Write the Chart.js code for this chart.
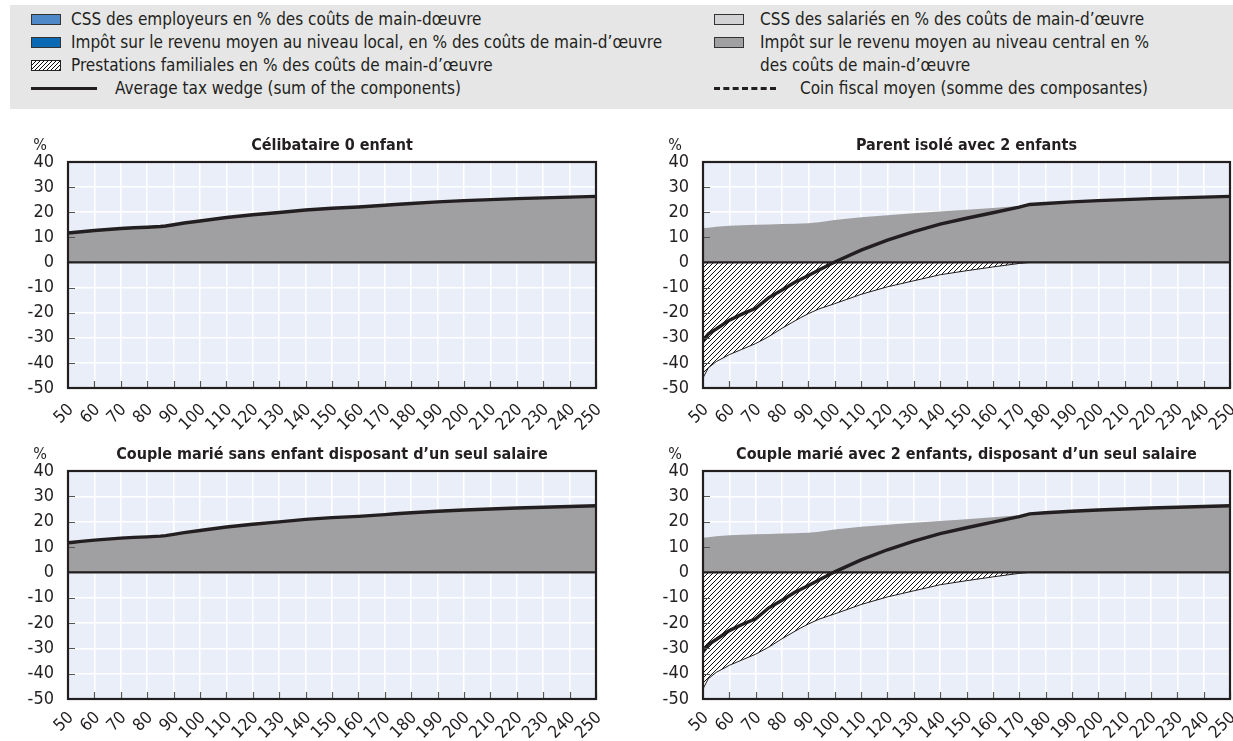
<!DOCTYPE html>
<html>
<head>
<meta charset="utf-8">
<script src="https://cdn.jsdelivr.net/npm/chart.js@4.4.1/dist/chart.umd.min.js"></script>
<style>
  html, body { margin: 0; padding: 0; background: #ffffff; width: 1233px; height: 741px; overflow: hidden; }
  body { position: relative; font-family: "Liberation Sans Narrow", "Arial Narrow", "DejaVu Sans Condensed", sans-serif; color: #231f20; }
  #legend { position: absolute; left: 10px; top: 5px; width: 1223px; height: 104px; background: #e6e6e6; }
  .li { position: absolute; font-size: 17px; line-height: 23px; white-space: nowrap; }
  .sw { position: absolute; width: 30px; height: 11px; box-sizing: border-box; border: 1px solid #333; }
  .wrap { position: absolute; }
</style>
</head>
<body>
<div id="legend"></div>
<div class="wrap" style="left:0px;top:120px;"><canvas id="c1" width="616" height="320"></canvas></div>
<div class="wrap" style="left:616px;top:120px;"><canvas id="c2" width="617" height="320"></canvas></div>
<div class="wrap" style="left:0px;top:430px;"><canvas id="c3" width="616" height="311"></canvas></div>
<div class="wrap" style="left:616px;top:430px;"><canvas id="c4" width="617" height="311"></canvas></div>
<script>
// ---- Data ----
const earnings = [50, 52, 55, 60, 65, 70, 75, 80, 85, 87, 90, 94, 100, 110, 120, 130, 140, 150, 160, 170, 174, 180, 190, 200, 210, 220, 230, 240, 250];

// Single, no child & one-earner married couple without children
const singleIncomeTaxCentral = [11.7, 11.9, 12.2, 12.7, 13.1, 13.5, 13.8, 14.0, 14.3, 14.5, 15.0, 15.7, 16.5, 17.9, 19.0, 19.9, 20.9, 21.6, 22.1, 22.8, 23.1, 23.5, 24.1, 24.6, 25.0, 25.4, 25.7, 26.0, 26.3];
const singleFamilyBenefits   = [0, 0, 0, 0, 0, 0, 0, 0, 0, 0, 0, 0, 0, 0, 0, 0, 0, 0, 0, 0, 0, 0, 0, 0, 0, 0, 0, 0, 0];
const singleTaxWedge         = [11.7, 11.9, 12.2, 12.7, 13.1, 13.5, 13.8, 14.0, 14.3, 14.5, 15.0, 15.7, 16.5, 17.9, 19.0, 19.9, 20.9, 21.6, 22.1, 22.8, 23.1, 23.5, 24.1, 24.6, 25.0, 25.4, 25.7, 26.0, 26.3];

// Single parent with 2 children & one-earner married couple with 2 children
const parentIncomeTaxCentral = [13.7, 13.8, 14.2, 14.6, 14.8, 15.0, 15.1, 15.3, 15.4, 15.5, 15.6, 16.0, 16.9, 18.0, 18.8, 19.6, 20.3, 21.0, 21.7, 22.5, 23.1, 23.5, 24.1, 24.6, 25.0, 25.4, 25.7, 26.0, 26.3];
const parentFamilyBenefits   = [-46, -42, -39.5, -36.7, -34.5, -32.3, -29.5, -26.2, -23.2, -22.0, -20.4, -18.5, -16.4, -12.7, -9.7, -7.3, -4.9, -3.3, -1.8, -0.4, 0, 0, 0, 0, 0, 0, 0, 0, 0];
const parentTaxWedge         = [-31.5, -28.5, -26.5, -23.0, -20.5, -18.3, -14.0, -11.0, -7.8, -6.8, -5.2, -3.0, 0.2, 4.9, 8.9, 12.3, 15.3, 17.6, 19.8, 22.0, 23.1, 23.5, 24.1, 24.6, 25.0, 25.4, 25.7, 26.0, 26.3];

const panelTitles = [
  "Célibataire 0 enfant",
  "Parent isolé avec 2 enfants",
  "Couple marié sans enfant disposant d’un seul salaire",
  "Couple marié avec 2 enfants, disposant d’un seul salaire"
];
const legendLabels = [
  "CSS des employeurs en % des coûts de main-dœuvre",
  "Impôt sur le revenu moyen au niveau local, en % des coûts de main-d’œuvre",
  "Prestations familiales en % des coûts de main-d’œuvre",
  "Average tax wedge (sum of the components)",
  "CSS des salariés en % des coûts de main-d’œuvre",
  "Impôt sur le revenu moyen au niveau central en %<br>des coûts de main-d’œuvre",
  "Coin fiscal moyen (somme des composantes)"
];
const yMin = -50, yMax = 40, yStep = 10;
const xMin = 50, xMax = 250, xStep = 10;

// ---- Styles ----
const COL_CENTRAL = '#a0a0a3';
const COL_BG = '#e9eef8';
const FONT = '"Liberation Sans Narrow", "Arial Narrow", "DejaVu Sans Condensed", sans-serif';

function makeHatch(size) {
  const c = document.createElement('canvas');
  c.width = size; c.height = size;
  const g = c.getContext('2d');
  g.fillStyle = '#ffffff'; g.fillRect(0, 0, size, size);
  g.strokeStyle = '#111'; g.lineWidth = 1;
  g.beginPath();
  g.moveTo(0, size); g.lineTo(size, 0);
  g.moveTo(-1, 1); g.lineTo(1, -1);
  g.moveTo(size - 1, size + 1); g.lineTo(size + 1, size - 1);
  g.stroke();
  return c;
}
const hatchCanvas = makeHatch(5);

// ---- Legend (HTML text) ----
(function buildLegend() {
  const L = document.getElementById('legend');
  const OX = 10, OY = 5; // legend box origin
  function add(html, x, cy) {
    const d = document.createElement('div');
    d.className = 'li'; d.style.left = (x - OX) + 'px'; d.style.top = (cy - 11 - OY) + 'px';
    d.innerHTML = html; L.appendChild(d); return d;
  }
  function sw(x, cy, bg, extra) {
    const s = document.createElement('div');
    s.className = 'sw'; s.style.left = (x - OX) + 'px'; s.style.top = (cy - 5 - OY) + 'px'; s.style.background = bg;
    if (extra) s.style.cssText += extra;
    L.appendChild(s);
  }
  function line(x, cy, w, style) {
    const d = document.createElement('div');
    d.style.cssText = 'position:absolute;left:' + (x - OX) + 'px;top:' + (cy - 1 - OY) + 'px;width:' + w + 'px;height:0;border-top:3px ' + style + ' #231f20;';
    L.appendChild(d);
  }
  const rows = [19, 42, 65, 88];
  const lx = 31, tx = 71;
  sw(lx, rows[0], '#4e88c9');
  add(legendLabels[0], tx, rows[0]);
  sw(lx, rows[1], '#0b69b3');
  add(legendLabels[1], tx, rows[1]);
  sw(lx, rows[2], 'url(' + makeHatch(4).toDataURL() + ')', 'border-color:#222;');
  add(legendLabels[2], tx, rows[2]);
  line(lx, rows[3], 66, 'solid');
  add(legendLabels[3], 115, rows[3]);

  const rx = 714, rtx = 760;
  sw(rx, rows[0], '#d2d2d4');
  add(legendLabels[4], rtx, rows[0]);
  sw(rx, rows[1], COL_CENTRAL);
  add(legendLabels[5], rtx, rows[1]);
  line(rx, rows[3], 62, 'dashed');
  add(legendLabels[6], 800, rows[3]);
})();

// ---- Chart plugin: background, border, inner ticks, zero line, title, % label ----
const panelDeco = {
  id: 'panelDeco',
  beforeDraw(chart) {
    const { ctx, chartArea: a } = chart;
    ctx.save();
    ctx.fillStyle = COL_BG;
    ctx.fillRect(a.left, a.top, a.right - a.left, a.bottom - a.top);
    ctx.restore();
  },
  afterDatasetsDraw(chart, args, opts) {
    const { ctx, chartArea: a, scales } = chart;
    const xs = scales.x, ys = scales.y;
    ctx.save();
    ctx.strokeStyle = '#555'; ctx.lineWidth = 1.2;
    ctx.beginPath();
    for (let v = yMin + yStep; v < yMax; v += yStep) {
      const py = Math.round(ys.getPixelForValue(v)) + 0.5;
      ctx.moveTo(a.left, py); ctx.lineTo(a.left + 7, py);
    }
    for (let v = xMin + xStep; v <= xMax; v += xStep) {
      const px = Math.round(xs.getPixelForValue(v)) + 0.5;
      ctx.moveTo(px, a.bottom); ctx.lineTo(px, a.bottom - 7);
    }
    ctx.stroke();
    const zy = ys.getPixelForValue(0);
    ctx.strokeStyle = '#231f20'; ctx.lineWidth = 2.2;
    ctx.beginPath(); ctx.moveTo(a.left, zy); ctx.lineTo(a.right, zy); ctx.stroke();
    ctx.lineWidth = 2.2;
    ctx.strokeRect(a.left, a.top, a.right - a.left, a.bottom - a.top);
    ctx.restore();
  },
  afterDraw(chart, args, opts) {
    const { ctx, chartArea: a } = chart;
    ctx.save();
    ctx.fillStyle = '#231f20';
    ctx.font = 'bold 16px ' + FONT;
    ctx.textAlign = 'center'; ctx.textBaseline = 'middle';
    ctx.fillText(opts.title, (a.left + a.right) / 2, a.top - 16);
    ctx.font = '16px ' + FONT;
    ctx.fillText('%', a.left - 28, a.top - 16);
    ctx.restore();
  }
};

function makeChart(id, title, tax, benefits, wedge, axisW, padTop, xAxisH, padRight, xPad) {
  const pts = arr => earnings.map((x, i) => ({ x: x, y: arr[i] }));
  const ctx = document.getElementById(id).getContext('2d');
  const hatch = ctx.createPattern(hatchCanvas, 'repeat');
  return new Chart(ctx, {
    type: 'line',
    data: {
      datasets: [
        { label: 'Average tax wedge (sum of the components)', data: pts(wedge), borderColor: '#231f20', borderWidth: 3.4, pointRadius: 0, fill: false, order: 0 },
        { label: 'Prestations familiales en % des coûts de main-d’œuvre', data: pts(benefits), borderColor: '#231f20', borderWidth: 1, pointRadius: 0, fill: 'origin', backgroundColor: hatch, order: 1 },
        { label: 'Impôt sur le revenu moyen au niveau central', data: pts(tax), borderColor: 'rgba(0,0,0,0)', borderWidth: 0, pointRadius: 0, fill: 'origin', backgroundColor: COL_CENTRAL, order: 2 }
      ]
    },
    options: {
      responsive: false, animation: false, devicePixelRatio: 1,
      layout: { padding: { left: 0, right: padRight, top: padTop, bottom: 0 } },
      plugins: { legend: { display: false }, tooltip: { enabled: false }, title: { display: false }, panelDeco: { title: title } },
      scales: {
        x: {
          type: 'linear', min: xMin, max: xMax,
          afterFit(s) { s.height = xAxisH; s.paddingLeft = 0; s.paddingRight = 0; },
          afterBuildTicks(s) { s.ticks = []; for (let v = xMin; v <= xMax; v += xStep) s.ticks.push({ value: v }); },
          ticks: { autoSkip: false, maxRotation: 45, minRotation: 45, padding: xPad, labelOffset: 3, color: '#231f20', font: { family: FONT, size: 17 } },
          grid: { color: '#ffffff', lineWidth: 1.5, drawTicks: false },
          border: { display: false }
        },
        y: {
          min: yMin, max: yMax,
          afterFit(s) { s.width = axisW; s.paddingTop = 0; s.paddingBottom = 0; },
          ticks: { stepSize: yStep, padding: 14, color: '#231f20', font: { family: FONT, size: 18 } },
          grid: { color: '#ffffff', lineWidth: 1.5, drawTicks: false },
          border: { display: false }
        }
      }
    },
    plugins: [panelDeco]
  });
}

makeChart('c1', panelTitles[0], singleIncomeTaxCentral, singleFamilyBenefits, singleTaxWedge, 68, 42, 52, 20, 12);
makeChart('c2', panelTitles[1], parentIncomeTaxCentral, parentFamilyBenefits, parentTaxWedge, 87, 42, 52, 3, 12);
makeChart('c3', panelTitles[2], singleIncomeTaxCentral, singleFamilyBenefits, singleTaxWedge, 68, 41, 42, 20, 9);
makeChart('c4', panelTitles[3], parentIncomeTaxCentral, parentFamilyBenefits, parentTaxWedge, 87, 41, 42, 3, 9);
</script>
</body>
</html>
